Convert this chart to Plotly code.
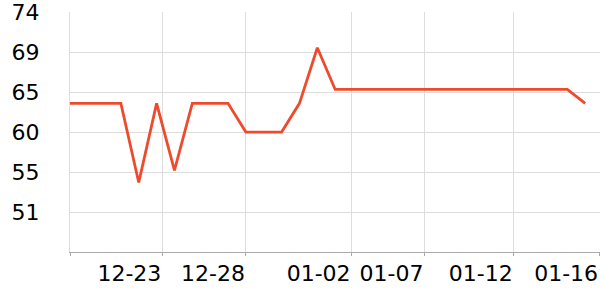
import plotly.graph_objects as go

# daily series (index = day number)
day_index = list(range(30))
values = [63.3, 63.3, 63.3, 63.3, 54.2, 63.3, 55.6, 63.3, 63.3, 63.3,
          60.0, 60.0, 60.0, 63.3, 69.7, 64.9, 64.9, 64.9, 64.9, 64.9,
          64.9, 64.9, 64.9, 64.9, 64.9, 64.9, 64.9, 64.9, 64.9, 63.3]

x_tick_pos = [0.16, 5.32, 10.0, 15.92, 20.0, 25.0, 29.78]
x_tick_text = ["", "12-23", "12-28", "01-02", "01-07", "01-12", "01-16"]

y_tick_pos = [50.8, 55.4, 60.0, 64.6, 69.2, 73.8]
y_tick_text = ["51", "55", "60", "65", "69", "74"]
y_range = [46.2, 73.81]
x_range = [0.15, 29.83]

fig = go.Figure()
fig.add_trace(go.Scatter(
    x=day_index, y=values, mode="lines",
    line=dict(color="#ee4b2d", width=2.8),
    hoverinfo="skip",
))

fig.update_layout(
    width=600, height=300,
    margin=dict(l=70, r=0, t=12, b=48),
    paper_bgcolor="white", plot_bgcolor="white",
    showlegend=False,
    font=dict(family="DejaVu Sans", size=22, color="#000000"),
)
fig.update_xaxes(
    range=x_range, tickmode="array", tickvals=x_tick_pos, ticktext=x_tick_text,
    showgrid=True, gridcolor="#dddddd", gridwidth=1,
    showline=True, linecolor="#aaaaaa", linewidth=1,
    ticks="outside", ticklen=3, tickcolor="#aaaaaa",
    ticklabelposition="outside left", ticklabelstandoff=2,
    tickangle=0, ticklabeloverflow="allow", automargin=False,
    tickfont=dict(family="DejaVu Sans", size=22, color="#000000"),
    zeroline=False,
)
fig.update_yaxes(
    range=y_range, tickmode="array", tickvals=y_tick_pos, ticktext=y_tick_text,
    showgrid=True, gridcolor="#dddddd", gridwidth=1,
    showline=True, linecolor="#dddddd", linewidth=1,
    ticks="", ticklabelstandoff=25, ticklabeloverflow="allow", automargin=False,
    tickfont=dict(family="DejaVu Sans", size=22, color="#000000"),
    zeroline=False,
)

fig.write_html("out.html")
